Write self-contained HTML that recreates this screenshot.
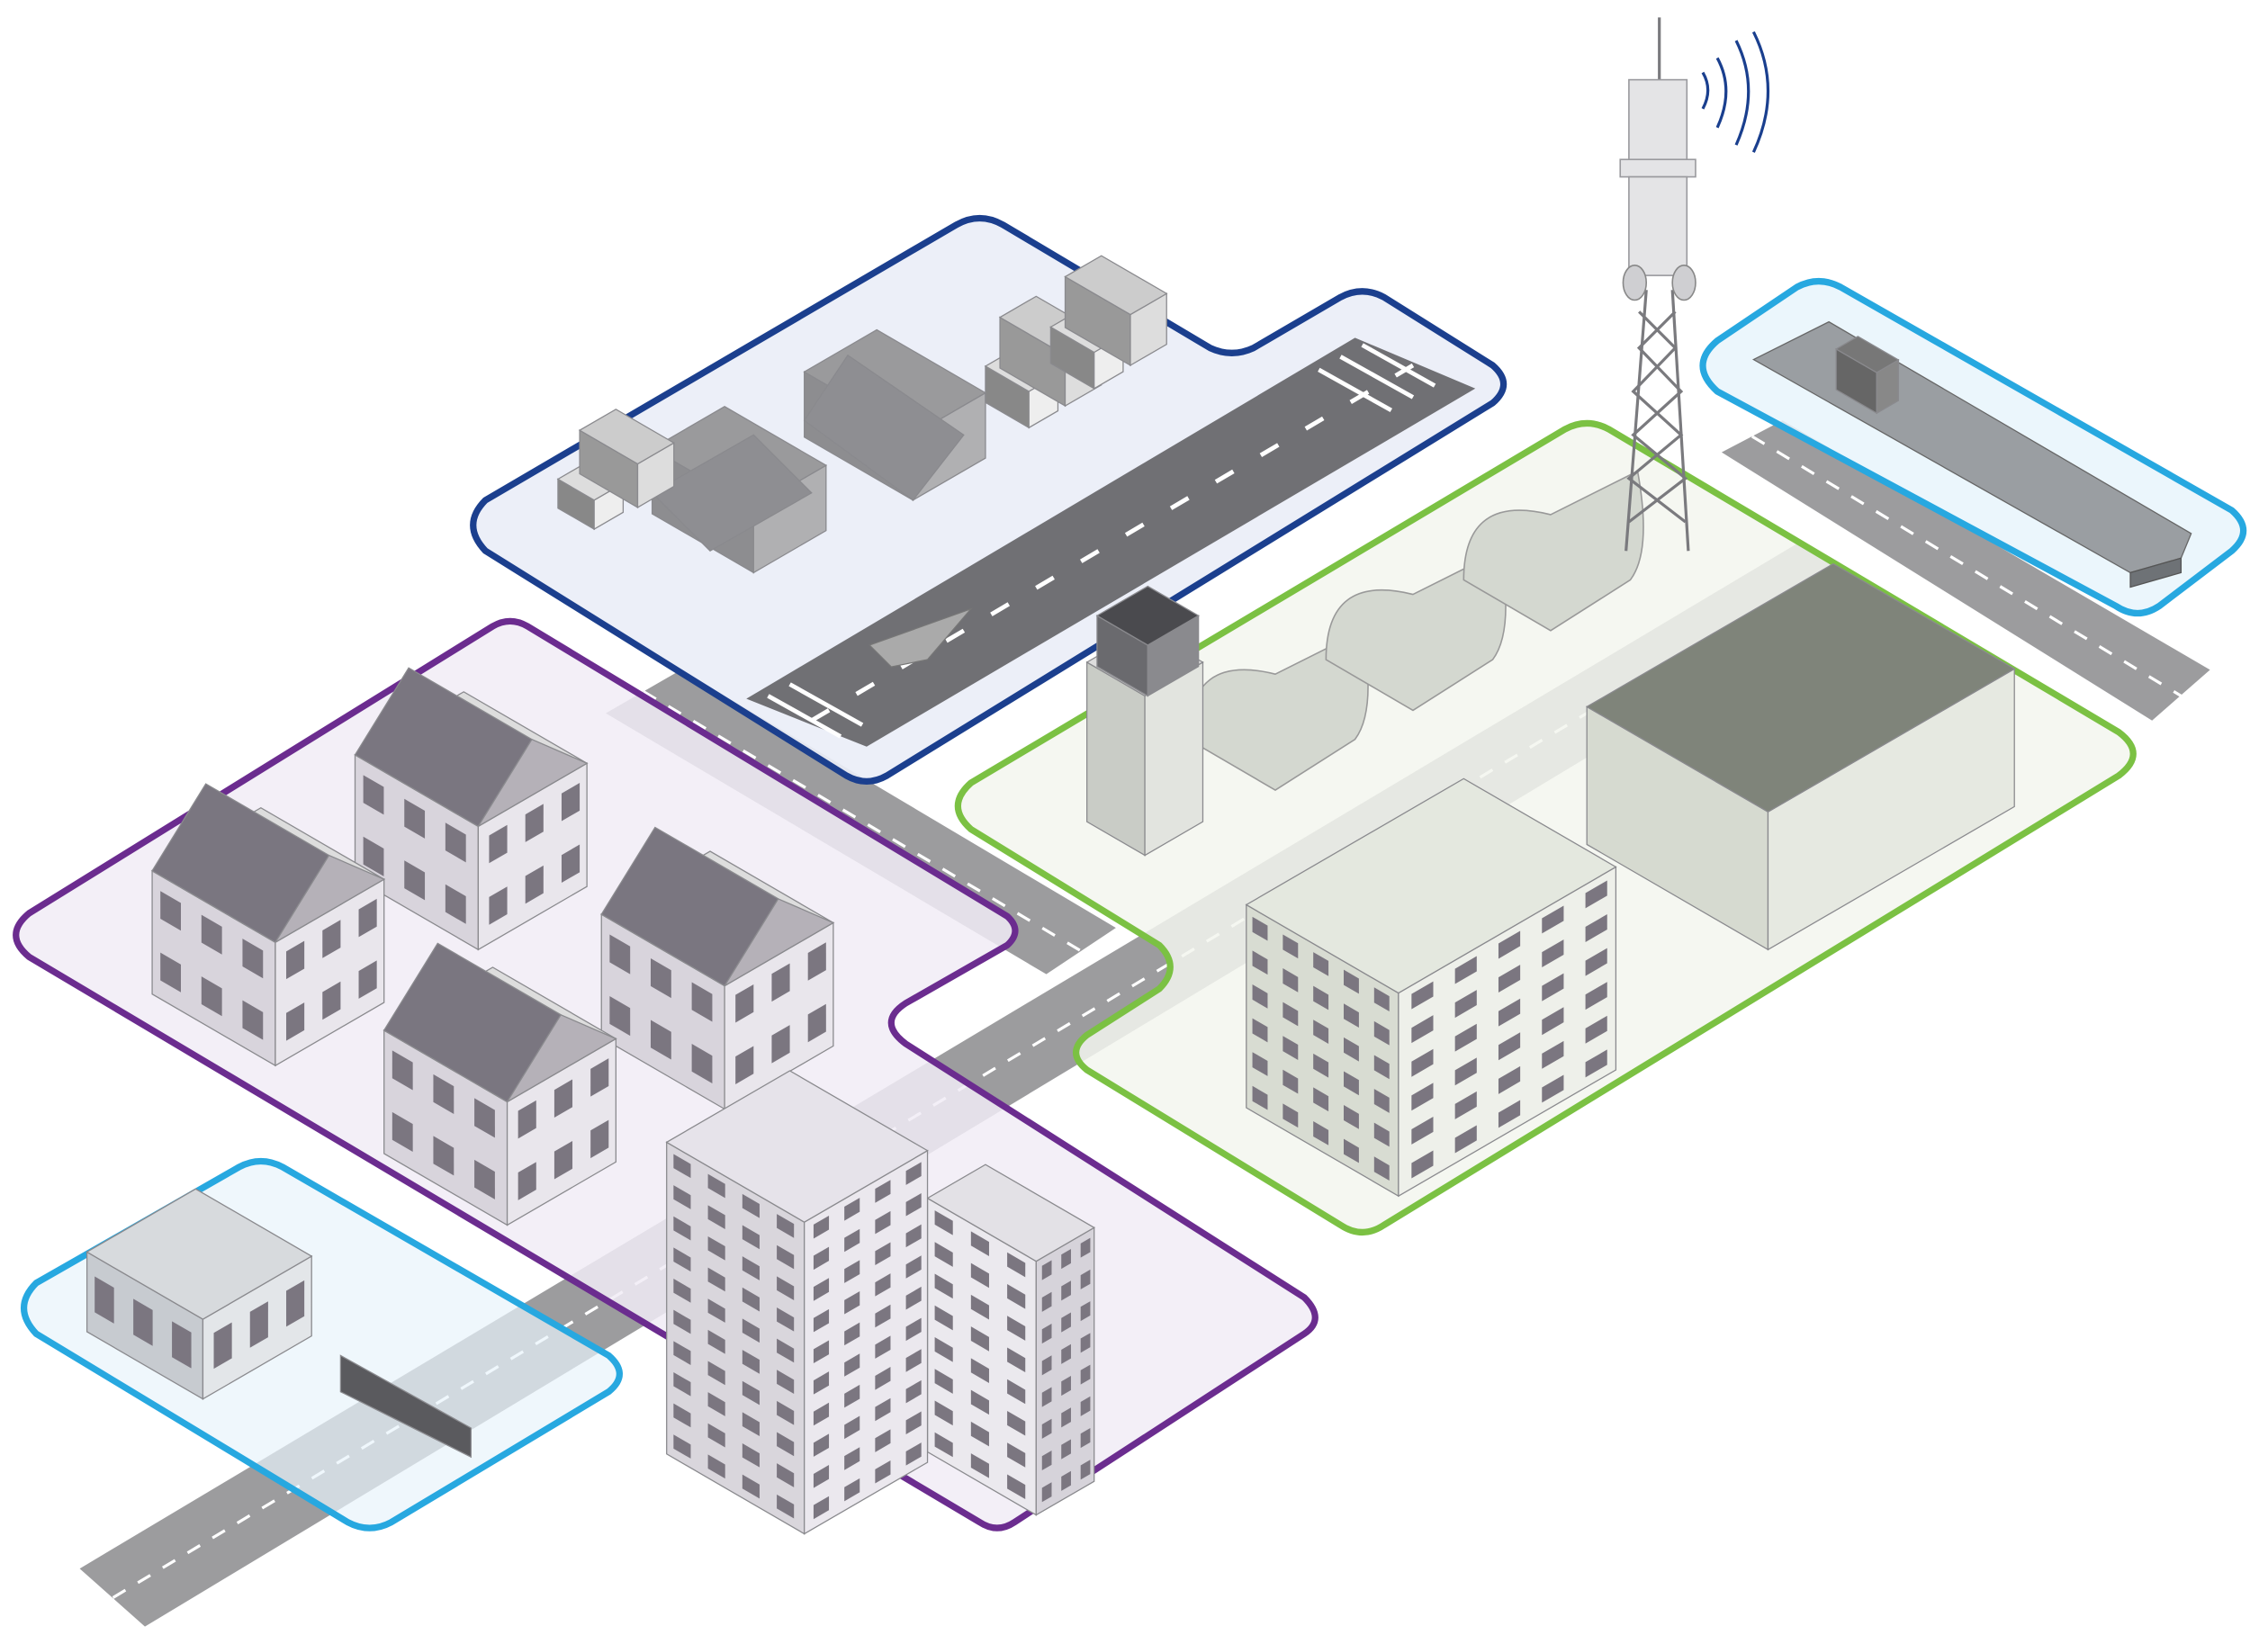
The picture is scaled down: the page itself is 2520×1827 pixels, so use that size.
<!DOCTYPE html>
<html><head><meta charset="utf-8"><style>
html,body{margin:0;padding:0;background:#fff;}
svg{display:block;}
</style></head><body>
<svg id="s" width="2520" height="1827" viewBox="0 0 1565 1134" preserveAspectRatio="none" xmlns="http://www.w3.org/2000/svg">
<rect width="1565" height="1134" fill="#fff"/>
<g fill="#9c9c9e">
<polygon points="55,1082 1240,375 1290,405 100,1122"/>
<polygon points="1188,312 1230,290 1525,462 1485,497"/>
<polygon points="418,492 470,462 770,640 722,672"/>
</g>
<g stroke="#fff" stroke-width="2" stroke-dasharray="10 10" fill="none">
<line x1="78" y1="1102" x2="1265" y2="390"/>
<line x1="1209" y1="301" x2="1505" y2="480"/>
<line x1="444" y1="477" x2="746" y2="656"/>
</g>
<g stroke-linejoin="round" stroke-width="4.5">
<path d="M20,630 L340,432 Q352,425 364,432 L695,632 Q706,642 695,652 L625,692 Q605,705 625,720 L900,895 Q915,910 900,920 L700,1050 Q688,1058 676,1050 L20,660 Q2,645 20,630 Z" fill="#f1ecf6" fill-opacity="0.85" stroke="#6b2c8f"/>
<path d="M335,345 L660,155 Q676,146 692,155 L835,240 Q850,247 865,240 L925,205 Q940,197 955,205 L1030,252 Q1045,265 1030,278 L612,535 Q598,543 584,535 L335,380 Q318,362 335,345 Z" fill="#eaeef7" fill-opacity="0.92" stroke="#1b3f8e"/>
<path d="M670,540 L1080,296 Q1095,288 1110,296 L1462,505 Q1482,520 1462,535 L955,845 Q940,855 925,845 L750,738 Q735,726 750,714 L800,682 Q815,667 800,652 L670,572 Q652,556 670,540 Z" fill="#f3f6ee" fill-opacity="0.85" stroke="#7bc143"/>
<path d="M1185,235 L1240,198 Q1255,190 1270,198 L1540,352 Q1556,366 1540,380 L1490,418 Q1475,428 1460,418 L1185,270 Q1165,252 1185,235 Z" fill="#e8f4fb" fill-opacity="0.85" stroke="#27a8e0"/>
<path d="M25,885 L165,805 Q180,797 195,805 L420,935 Q435,948 420,960 L270,1050 Q255,1058 240,1050 L25,920 Q8,902 25,885 Z" fill="#e8f4fb" fill-opacity="0.7" stroke="#27a8e0"/>
</g>
<polygon points="515,482 935,233 1018,268 598,515" fill="#707074"/>
<g stroke="#fff" stroke-width="3" stroke-dasharray="14 22"><line x1="560" y1="497" x2="975" y2="252"/></g>
<g stroke="#fff" stroke-width="3"><line x1="530" y1="480" x2="580" y2="508"/><line x1="545" y1="472" x2="595" y2="500"/><line x1="910" y1="255" x2="960" y2="283"/><line x1="925" y1="246" x2="975" y2="274"/><line x1="940" y1="238" x2="990" y2="266"/></g>
<g id="dyn"></g>
<g stroke="#7a7a7e" stroke-width="2" fill="none">
<line x1="1122" y1="380" x2="1136" y2="200"/><line x1="1165" y1="380" x2="1154" y2="200"/>
<path d="M1124,360 L1163,330 L1127,300 L1160,270 L1131,240 L1156,215"/>
<path d="M1163,360 L1124,330 L1160,300 L1127,270 L1156,240 L1131,215"/>
<line x1="1145" y1="12" x2="1145" y2="60"/>
</g>
<g fill="#e4e4e6" stroke="#9a9a9e">
<rect x="1124" y="55" width="40" height="60"/>
<rect x="1118" y="110" width="52" height="12"/>
<rect x="1124" y="122" width="40" height="68"/>
</g>
<ellipse cx="1128" cy="195" rx="8" ry="12" fill="#cfcfd2" stroke="#888"/><ellipse cx="1162" cy="195" rx="8" ry="12" fill="#cfcfd2" stroke="#888"/>
<g stroke="#1a3f8e" stroke-width="2" fill="none"><path d="M1175,50 Q1182,62 1175,75"/><path d="M1185,40 Q1197,62 1185,88"/><path d="M1198,28 Q1215,62 1198,100"/><path d="M1210,22 Q1230,62 1210,105"/></g>
</svg>
<script>
var g=document.getElementById('dyn'),k=0.58;
function poly(p,f,st){var e=document.createElementNS('http://www.w3.org/2000/svg','polygon');e.setAttribute('points',p.map(function(q){return q[0]+','+q[1]}).join(' '));e.setAttribute('fill',f);e.setAttribute('stroke',st||'#8a8a8e');e.setAttribute('stroke-width','0.8');g.appendChild(e);}
function box(x,y,a,b,h,top,l,r){var P=[x,y],R=[x+a,y-k*a],L=[x-b,y-k*b],B=[x+a-b,y-k*(a+b)];
poly([P,L,[L[0],L[1]-h],[x,y-h]],l);poly([P,R,[R[0],R[1]-h],[x,y-h]],r);
poly([[x,y-h],[R[0],R[1]-h],[B[0],B[1]-h],[L[0],L[1]-h]],top);}
function win(x,y,a,b,h,rows,cols){
 for(var i=0;i<rows;i++)for(var j=0;j<cols;j++){var t=(j+0.3)/cols, yy=y-h*(i+0.3)/rows;
 var lx=x-b*t, ly=yy-k*b*t; poly([[lx,ly],[lx-b*0.5/cols,ly-k*b*0.5/cols],[lx-b*0.5/cols,ly-k*b*0.5/cols-h*0.45/rows],[lx,ly-h*0.45/rows]],'#7b7680','none');
 var rx=x+a*t, ry=yy-k*a*t; poly([[rx,ry],[rx+a*0.5/cols,ry-k*a*0.5/cols],[rx+a*0.5/cols,ry-k*a*0.5/cols-h*0.45/rows],[rx,ry-h*0.45/rows]],'#7b7680','none');}}
function house(x,y){box(x,y,75,85,85,'#ddd','#d8d4dc','#e9e6ec');
 var h=85,L=[x-85,y-k*85-h],R=[x+75,y-k*75-h],P=[x,y-h];
 poly([P,L,[L[0]+37,L[1]-60],[P[0]+37,P[1]-60]],'#7a7680');poly([P,R,[P[0]+37,P[1]-60]],'#b5b1b8');win(x,y,75,85,85,2,3);}
box(520,395,50,70,45,'#9a9a9c','#8d8d90','#b0b0b2');poly([[450,340],[520,300],[560,340],[490,380]],'#8e8e92');
box(630,345,50,75,45,'#9a9a9c','#8d8d90','#b0b0b2');poly([[555,290],[585,245],[665,300],[630,345]],'#8e8e92');
box(410,365,20,25,20,'#ddd','#888','#eee');box(440,350,25,40,30,'#ccc','#999','#ddd');
box(710,295,20,30,25,'#ddd','#888','#eee');box(735,280,25,45,35,'#ccc','#999','#ddd');
box(755,268,20,30,25,'#ddd','#888','#eee');box(780,252,25,45,35,'#ccc','#999','#ddd');
house(330,655);house(190,735);house(500,765);house(350,845);
box(715,1045,40,75,175,'#e3e1e6','#ebe9ee','#d6d3da');win(715,1045,40,75,175,8,3);
box(555,1058,85,95,215,'#e6e3ea','#d9d6dc','#ebe8ee');win(555,1058,85,95,215,10,4);
box(140,965,75,80,55,'#d7dadd','#c7cbd0','#e3e6e9');win(140,965,75,80,55,1,3);
poly([[235,935],[325,985],[325,1005],[235,960]],'#5a5a5e');
[[880,545],[975,490],[1070,435]].forEach(function(p){var e=document.createElementNS('http://www.w3.org/2000/svg','path');
e.setAttribute('d','M'+(p[0]-60)+','+(p[1]-35)+' Q'+(p[0]-60)+','+(p[1]-95)+' '+p[0]+','+(p[1]-80)+' L'+(p[0]+60)+','+(p[1]-110)+' Q'+(p[0]+70)+','+(p[1]-55)+' '+(p[0]+55)+','+(p[1]-35)+' L'+p[0]+','+(p[1])+' Z');
e.setAttribute('fill','#d4d8d0');e.setAttribute('stroke','#999');g.appendChild(e);});
box(1220,655,170,125,95,'#7f847a','#d6dad0','#e6e9e1');
box(965,825,150,105,140,'#e4e8df','#d8dcd2','#eef0ea');win(965,825,150,105,140,6,5);
box(790,590,40,40,110,'#ddd','#c9ccc6','#e2e4df');box(792,480,35,35,35,'#4a4a4e','#6a6a6e','#8a8a8e');
poly([[1210,248],[1262,222],[1512,368],[1505,385],[1470,395]],'#9a9ea2','#666');poly([[1470,395],[1505,385],[1505,395],[1470,405]],'#6e7276','#555');
box(1295,285,15,28,28,'#777','#666','#888');
poly([[600,445],[670,420],[640,455],[615,460]],'#aaa','#777');
</script>
</body></html>
